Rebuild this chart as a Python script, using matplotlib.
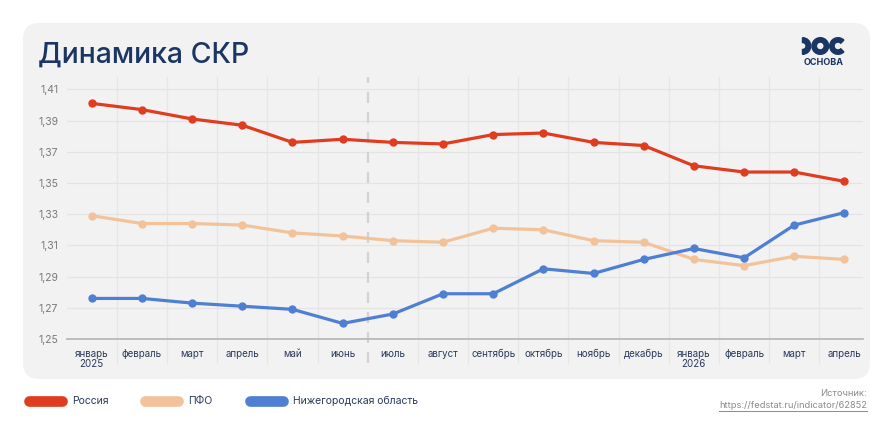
import matplotlib
matplotlib.use("Agg")
import matplotlib.pyplot as plt
from matplotlib.patches import FancyBboxPatch, Wedge
from matplotlib.lines import Line2D

# months on the x axis
months = ["январь\n2025", "февраль", "март", "апрель", "май", "июнь", "июль", "август",
          "сентябрь", "октябрь", "ноябрь", "декабрь", "январь\n2026", "февраль", "март", "апрель"]

# total fertility rate
russia = [1.401, 1.397, 1.391, 1.387, 1.376, 1.378, 1.376, 1.375,
          1.381, 1.382, 1.376, 1.374, 1.361, 1.357, 1.357, 1.351]
pfo = [1.329, 1.324, 1.324, 1.323, 1.318, 1.316, 1.313, 1.312,
       1.321, 1.320, 1.313, 1.312, 1.301, 1.297, 1.303, 1.301]
nizhny = [1.276, 1.276, 1.273, 1.271, 1.269, 1.260, 1.266, 1.279,
          1.279, 1.295, 1.292, 1.301, 1.308, 1.302, 1.323, 1.331]

series_names = ["Россия", "ПФО", "Нижегородская область"]
colors = ["#e03c1f", "#f2c39a", "#4f7fd3"]
yticks = [1.25, 1.27, 1.29, 1.31, 1.33, 1.35, 1.37, 1.39, 1.41]

plt.rcParams["font.family"] = ["Inter", "DejaVu Sans"]

W, H = 892, 428
fig = plt.figure(figsize=(W / 100, H / 100), dpi=100)
fig.patch.set_facecolor("white")

# background axes in pixel coordinates (y goes down)
bg = fig.add_axes([0, 0, 1, 1], zorder=0)
bg.set_xlim(0, W)
bg.set_ylim(H, 0)
bg.axis("off")

card = FancyBboxPatch((23, 23), 847, 356, boxstyle="round,pad=0,rounding_size=16",
                      facecolor="#f2f2f2", edgecolor="none")
bg.add_patch(card)

bg.text(38, 63, "Динамика СКР", fontsize=20.5, color="#1b3564", fontweight="medium",
        va="baseline", ha="left")

# logo
navy = "#1b3564"
r = 8.3
bg.add_patch(Wedge((802.5, 46.0), r, -90, 90, width=4.8, color=navy))
bg.add_patch(Wedge((820.3, 46.0), r, 0, 360, width=4.4, color=navy))
bg.add_patch(Wedge((838.0, 46.0), r, 45, 315, width=4.4, color=navy))
bg.text(824, 62.5, "ОСНОВА", fontsize=6.5, color=navy, fontweight="bold",
        ha="center", va="center")

# legend
legend_x = [(24, 67, 72), (140, 183, 188), (245, 288, 293)]
for (x0, x1, xt), name, c in zip(legend_x, series_names, colors):
    bg.add_line(Line2D([x0 + 5, x1 - 5], [400.5, 400.5], color=c, lw=7.7,
                       solid_capstyle="round"))
    bg.text(xt, 401, name, fontsize=7.5, color="#2b3a5a", va="center", ha="left")

# source
bg.text(867, 394, "Источник:", fontsize=6.7, color="#8a8a8a", ha="right", va="center")
url = bg.text(867, 406, "https://fedstat.ru/indicator/62852", fontsize=6.7,
              color="#8a8a8a", ha="right", va="center")

# chart axes
ax = fig.add_axes([66.7 / W, 89 / H, (863 - 66.7) / W, (339 - 77) / H], zorder=1)
ax.set_facecolor("none")
y_top = 1.41 + 12.3 / 1556
ax.set_ylim(1.25, y_top)
ax.set_xlim(-0.5, 15.37)

y_low = 1.25 - 24 / 1556
for yv in yticks[1:]:
    ax.axhline(yv, color="#e4e4e4", lw=0.9, zorder=1)
for i in range(15):
    if i == 5:
        continue
    ax.plot([i + 0.5, i + 0.5], [y_low, y_top], color="#e6e6e6", lw=0.9,
            clip_on=False, zorder=1)
ax.plot([5.5, 5.5], [y_low, y_top], color="#d2d2d2", lw=1.6, ls=(0, (5, 4)),
        clip_on=False, zorder=1)

x = range(len(months))
for vals, c in zip([russia, pfo, nizhny], colors):
    ax.plot(x, vals, color=c, lw=2.3, marker="o", markersize=5, zorder=3)

for s in ["top", "right", "left"]:
    ax.spines[s].set_visible(False)
ax.spines["bottom"].set_color("#b4b4b4")
ax.spines["bottom"].set_linewidth(1.2)

ax.set_yticks(yticks)
ax.set_yticklabels([f"{v:.2f}".replace(".", ",") for v in yticks])
ax.tick_params(axis="y", length=0, pad=6, labelsize=7.5, labelcolor="#7a7a7a")
ax.set_xticks(list(x))
ax.set_xticklabels(months, linespacing=1.0)
ax.tick_params(axis="x", length=0, pad=7, labelsize=7, labelcolor="#2b3a5a")

# underline the url
fig.canvas.draw()
bb = url.get_window_extent()
inv = bg.transData.inverted()
(ux0, uy0), (ux1, uy1) = inv.transform([(bb.x0, bb.y0), (bb.x1, bb.y0)])
bg.add_line(Line2D([ux0, ux1], [uy0 + 0.5, uy0 + 0.5], color="#8a8a8a", lw=0.7))

fig.savefig("out.png", dpi=100, facecolor="white")
